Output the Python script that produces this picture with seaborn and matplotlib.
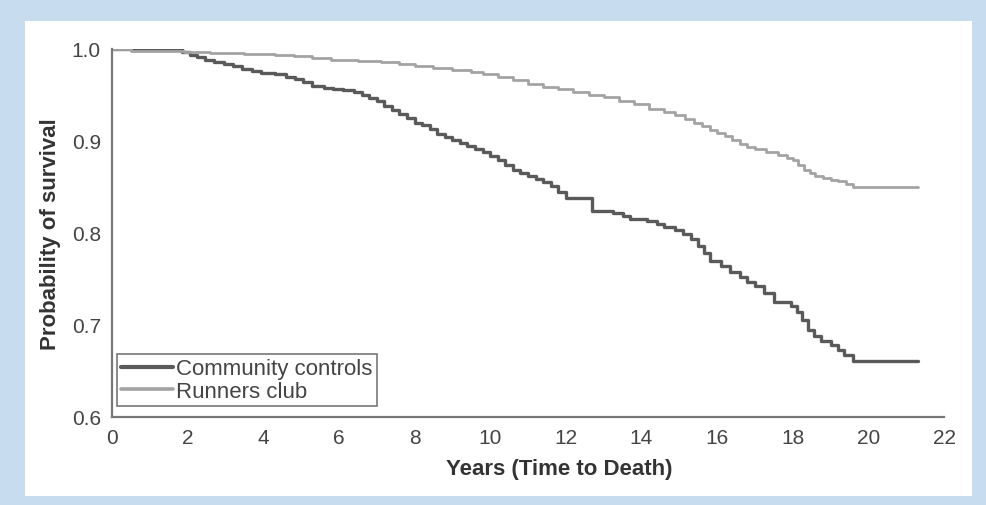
import matplotlib
matplotlib.use("Agg")
import matplotlib.pyplot as plt
import seaborn as sns
import pandas as pd
from matplotlib.patches import Rectangle
from matplotlib.lines import Line2D

# Data (Kaplan-Meier style step curves)
controls_t = [0, 1.85, 2.05, 2.25, 2.45, 2.7, 2.95, 3.2, 3.45, 3.7, 3.95, 4.3, 4.6,
              4.85, 5.05, 5.3, 5.6, 5.85, 6.1, 6.4, 6.6, 6.8, 7.0, 7.2, 7.4, 7.6,
              7.8, 8.0, 8.2, 8.4, 8.6, 8.8, 9.0, 9.2, 9.4, 9.6, 9.8, 10.0, 10.2,
              10.4, 10.6, 10.8, 11.0, 11.2, 11.4, 11.6, 11.8, 12.0, 12.7, 13.25,
              13.5, 13.7, 14.15, 14.4, 14.6, 14.9, 15.1, 15.3, 15.5, 15.65, 15.8,
              16.1, 16.35, 16.6, 16.8, 17.0, 17.25, 17.5, 17.95, 18.1, 18.25,
              18.4, 18.55, 18.75, 19.0, 19.2, 19.35, 19.6, 21.3]
controls_s = [1.0, 0.997, 0.994, 0.991, 0.988, 0.986, 0.984, 0.981, 0.978, 0.976,
              0.974, 0.973, 0.970, 0.967, 0.964, 0.960, 0.958, 0.956, 0.955, 0.953,
              0.950, 0.947, 0.943, 0.938, 0.934, 0.929, 0.925, 0.920, 0.917, 0.913,
              0.908, 0.904, 0.901, 0.898, 0.895, 0.891, 0.888, 0.884, 0.879, 0.874,
              0.869, 0.865, 0.862, 0.859, 0.855, 0.851, 0.845, 0.838, 0.824, 0.822,
              0.818, 0.815, 0.813, 0.810, 0.806, 0.803, 0.799, 0.793, 0.786, 0.778,
              0.770, 0.764, 0.758, 0.752, 0.747, 0.742, 0.735, 0.725, 0.721, 0.714,
              0.705, 0.695, 0.688, 0.683, 0.678, 0.673, 0.667, 0.661, 0.661]

runners_t = [0, 0.5, 1.9, 2.6, 3.5, 4.3, 4.8, 5.3, 5.8, 6.5, 7.1, 7.6, 8.0, 8.5,
             9.0, 9.5, 9.8, 10.2, 10.6, 11.0, 11.4, 11.8, 12.2, 12.6, 13.0, 13.4,
             13.8, 14.2, 14.6, 14.9, 15.15, 15.4, 15.6, 15.8, 16.0, 16.2, 16.4,
             16.6, 16.8, 17.0, 17.3, 17.6, 17.85, 18.0, 18.15, 18.3, 18.45, 18.6,
             18.8, 19.0, 19.2, 19.4, 19.6, 21.3]
runners_s = [1.0, 0.998, 0.997, 0.996, 0.995, 0.994, 0.992, 0.990, 0.988, 0.987,
             0.986, 0.984, 0.981, 0.979, 0.977, 0.975, 0.973, 0.970, 0.966, 0.962,
             0.959, 0.956, 0.953, 0.950, 0.948, 0.944, 0.940, 0.935, 0.931, 0.928,
             0.924, 0.920, 0.916, 0.912, 0.909, 0.905, 0.901, 0.897, 0.894, 0.891,
             0.888, 0.885, 0.882, 0.879, 0.874, 0.869, 0.865, 0.862, 0.860, 0.858,
             0.856, 0.853, 0.850, 0.850]

groups = ["Community controls", "Runners club"]
x_ticks = [0, 2, 4, 6, 8, 10, 12, 14, 16, 18, 20, 22]
y_ticks = [0.6, 0.7, 0.8, 0.9, 1.0]

df = pd.concat([
    pd.DataFrame({"t": controls_t, "s": controls_s, "group": groups[0]}),
    pd.DataFrame({"t": runners_t, "s": runners_s, "group": groups[1]}),
], ignore_index=True)

sns.set_style("white")
plt.rcParams["font.family"] = ["Liberation Sans", "DejaVu Sans"]

fig = plt.figure(figsize=(9.86, 5.06), dpi=100)
fig.patch.set_facecolor("#c7dcef")
fig.patches.append(Rectangle((25 / 986, 1 - 497 / 506), (972 - 25) / 986, (497 - 22) / 506,
                             transform=fig.transFigure, facecolor="white",
                             edgecolor="none", zorder=-5))
ax = fig.add_axes([112 / 986, 1 - 418 / 506, 832 / 986, 368 / 506])
ax.set_facecolor("none")

colors = {groups[0]: "#5a5a5a", groups[1]: "#a3a3a3"}
widths = {groups[0]: 2.4, groups[1]: 2.0}
for g in groups:
    sns.lineplot(data=df[df["group"] == g], x="t", y="s", ax=ax, color=colors[g],
                 linewidth=widths[g], drawstyle="steps-post", estimator=None,
                 sort=False, legend=False)

ax.set_xlim(0, 22)
ax.set_ylim(0.6, 1.0)
ax.set_xticks(x_ticks)
ax.set_yticks(y_ticks)
ax.set_yticklabels([f"{v:.1f}" for v in y_ticks])
ax.tick_params(axis="both", direction="out", length=3, width=1, color="#888888",
               labelsize=15, labelcolor="#444444", pad=5)
for side in ["top", "right"]:
    ax.spines[side].set_visible(False)
for side in ["left", "bottom"]:
    ax.spines[side].set_color("#777777")
    ax.spines[side].set_linewidth(1.6)

ax.set_xlabel("Years (Time to Death)", fontsize=16, fontweight="bold", color="#333333")
ax.xaxis.set_label_coords(0.537, -0.112)
ax.set_ylabel("Probability of survival", fontsize=16, fontweight="bold", color="#333333",
              labelpad=8)

handles = [Line2D([0], [0], color=colors[g], linewidth=widths[g] + 0.6) for g in groups]
leg = ax.legend(handles, groups, loc="lower left", bbox_to_anchor=(0.006, 0.03),
                fontsize=16, frameon=True, fancybox=False, handlelength=2.3,
                handletextpad=0.15, borderpad=0.2, labelspacing=0.05,
                borderaxespad=0)
leg.get_frame().set_edgecolor("#555555")
leg.get_frame().set_linewidth(1.2)
for t in leg.get_texts():
    t.set_color("#444444")

fig.savefig("out.png", dpi=100, facecolor=fig.get_facecolor())
